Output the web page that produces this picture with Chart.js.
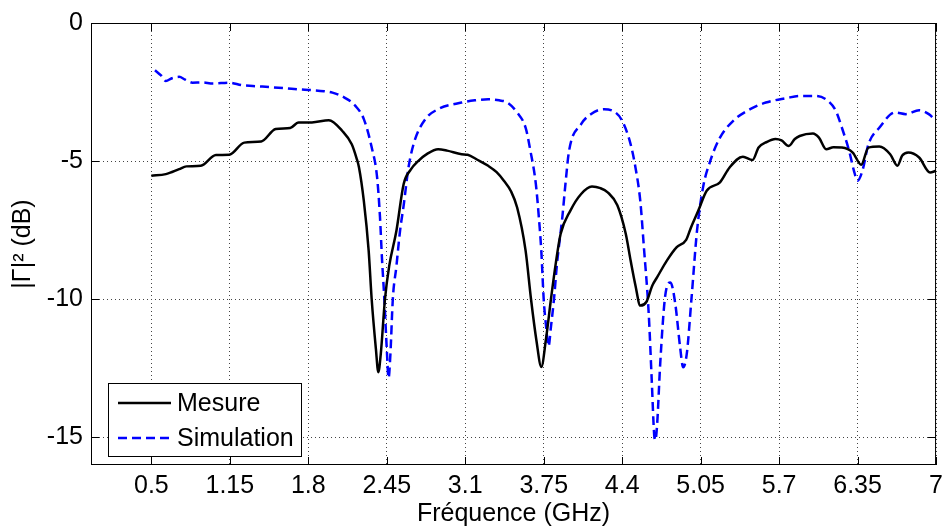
<!DOCTYPE html>
<html>
<head>
<meta charset="utf-8">
<script src="https://cdn.jsdelivr.net/npm/chart.js@4/dist/chart.umd.min.js"></script>
<style>
html,body{margin:0;padding:0;background:#fff;}
#wrap{width:949px;height:531px;position:relative;}
</style>
</head>
<body>
<div id="wrap"><canvas id="c" width="949" height="531"></canvas></div>
<script>
// ---- data ----
const xTicks = [0.5, 1.15, 1.8, 2.45, 3.1, 3.75, 4.4, 5.05, 5.7, 6.35, 7];
const yTicks = [-15, -10, -5, 0];

const mesureFreq = [0.50,0.62,0.73,0.79,0.91,1.035,1.145,1.27,1.41,1.53,1.65,1.72,1.83,1.97,2.08,2.16,2.20,2.22,2.26,2.30,2.325,2.36,2.38,2.40,2.435,2.47,2.53,2.59,2.65,2.71,2.79,2.875,2.95,3.07,3.12,3.20,3.29,3.36,3.42,3.48,3.53,3.60,3.645,3.69,3.73,3.77,3.81,3.85,3.89,3.97,4.06,4.15,4.22,4.28,4.36,4.43,4.47,4.51,4.55,4.60,4.65,4.69,4.77,4.85,4.93,4.97,5.03,5.10,5.21,5.29,5.40,5.48,5.53,5.60,5.67,5.72,5.78,5.83,5.87,5.98,6.03,6.09,6.15,6.22,6.31,6.38,6.44,6.53,6.62,6.68,6.72,6.77,6.86,6.95,7.00];
const mesureDb = [-5.53,-5.47,-5.29,-5.19,-5.17,-4.78,-4.77,-4.33,-4.29,-3.84,-3.80,-3.60,-3.60,-3.52,-3.90,-4.39,-4.9,-5.23,-6.44,-8.24,-10.0,-11.8,-12.64,-12.0,-10.0,-8.8,-7.52,-5.83,-5.3,-5.0,-4.72,-4.57,-4.62,-4.75,-4.77,-4.95,-5.17,-5.4,-5.71,-6.1,-6.68,-8.24,-10.0,-11.5,-12.45,-11.4,-10.0,-8.7,-7.64,-6.8,-6.19,-5.92,-5.98,-6.13,-6.6,-7.64,-8.6,-9.5,-10.23,-10.1,-9.5,-9.2,-8.6,-8.12,-7.85,-7.4,-6.8,-6.07,-5.77,-5.23,-4.84,-4.96,-4.51,-4.3,-4.20,-4.25,-4.45,-4.2,-4.09,-4.00,-4.15,-4.57,-4.5,-4.51,-4.69,-5.13,-4.51,-4.47,-4.75,-5.17,-4.8,-4.69,-4.87,-5.41,-5.35];

const simFreq = [0.53,0.58,0.62,0.67,0.73,0.78,0.84,0.92,1.01,1.145,1.25,1.34,1.48,1.61,1.72,1.83,1.93,2.00,2.10,2.19,2.26,2.325,2.37,2.394,2.41,2.43,2.45,2.465,2.48,2.50,2.53,2.56,2.59,2.63,2.68,2.77,2.875,3.07,3.18,3.29,3.38,3.45,3.53,3.60,3.64,3.685,3.71,3.73,3.75,3.77,3.79,3.81,3.835,3.86,3.905,3.93,3.96,4.06,4.14,4.25,4.345,4.40,4.47,4.51,4.55,4.58,4.62,4.645,4.665,4.675,4.69,4.715,4.755,4.80,4.84,4.88,4.905,4.935,4.975,5.02,5.07,5.13,5.21,5.32,5.46,5.59,5.76,5.87,6.00,6.10,6.17,6.22,6.28,6.32,6.35,6.39,6.44,6.53,6.66,6.75,6.86,6.94,7.00];
const simDb = [-1.71,-1.9,-2.10,-2.0,-1.95,-2.05,-2.16,-2.15,-2.19,-2.16,-2.25,-2.28,-2.32,-2.36,-2.40,-2.43,-2.47,-2.52,-2.70,-3.00,-3.48,-4.5,-5.59,-7.04,-8.5,-10.0,-11.8,-12.85,-12.0,-10.0,-8.8,-7.52,-6.6,-5.23,-4.27,-3.48,-3.12,-2.88,-2.80,-2.76,-2.80,-2.88,-3.24,-3.79,-4.63,-5.83,-7.04,-8.24,-10.0,-11.0,-11.7,-11.0,-10.0,-8.72,-7.0,-5.83,-4.63,-3.66,-3.30,-3.12,-3.24,-3.54,-4.39,-5.23,-6.44,-8.12,-10.53,-12.94,-14.9,-15.1,-14.5,-12.34,-9.93,-9.39,-10.17,-11.74,-12.46,-11.98,-9.93,-7.52,-5.95,-4.99,-4.15,-3.54,-3.12,-2.88,-2.72,-2.64,-2.64,-2.80,-3.18,-3.79,-4.63,-5.35,-5.71,-5.35,-4.39,-3.79,-3.24,-3.30,-3.16,-3.30,-3.54];

const seriesLabels = ['Mesure', 'Simulation'];
const xTitle = 'Fréquence (GHz)';
const yTitle = '|Γ|² (dB)';

// ---- build ----
const toPts = (xs, ys) => xs.map((x, i) => ({x: x, y: ys[i]}));
const FONT = '"Liberation Sans", Arial, sans-serif';

const framePlugin = {
  id: 'frame',
  afterDatasetsDraw(chart) {
    const {ctx, chartArea: a, scales} = chart;
    ctx.save();
    ctx.strokeStyle = '#000';
    ctx.lineWidth = 1;
    ctx.setLineDash([]);
    ctx.strokeRect(a.left + 0.5, a.top + 0.5, a.right - a.left - 1, a.bottom - a.top - 1);
    const L = 8;
    ctx.beginPath();
    xTicks.forEach(v => {
      const x = Math.round(scales.x.getPixelForValue(v)) + 0.5;
      ctx.moveTo(x, a.bottom); ctx.lineTo(x, a.bottom - L);
      ctx.moveTo(x, a.top); ctx.lineTo(x, a.top + L);
    });
    yTicks.forEach(v => {
      const y = Math.round(scales.y.getPixelForValue(v)) + 0.5;
      ctx.moveTo(a.left, y); ctx.lineTo(a.left + L, y);
      ctx.moveTo(a.right, y); ctx.lineTo(a.right - L, y);
    });
    ctx.stroke();

    // legend box
    const bx = 108, by = 383, bw = 193, bh = 73;
    ctx.fillStyle = '#fff';
    ctx.fillRect(bx, by, bw, bh);
    ctx.strokeRect(bx + 0.5, by + 0.5, bw, bh);
    ctx.font = '25px ' + FONT;
    ctx.textBaseline = 'middle';
    ctx.textAlign = 'left';
    chart.data.datasets.forEach((ds, i) => {
      const cy = by + 20 + i * 35;
      ctx.strokeStyle = ds.borderColor;
      ctx.lineWidth = ds.borderWidth;
      ctx.setLineDash(ds.borderDash || []);
      ctx.beginPath();
      ctx.moveTo(bx + 10, cy); ctx.lineTo(bx + 63, cy);
      ctx.stroke();
      ctx.fillStyle = '#000';
      ctx.fillText(ds.label, bx + 69, cy + 1);
    });
    ctx.restore();
  }
};

new Chart(document.getElementById('c'), {
  type: 'line',
  data: {
    datasets: [
      {label: seriesLabels[0], data: toPts(mesureFreq, mesureDb), borderColor: '#000000', borderWidth: 2.5, pointRadius: 0, fill: false, cubicInterpolationMode: 'monotone'},
      {label: seriesLabels[1], data: toPts(simFreq, simDb), borderColor: '#0000ff', borderWidth: 2.5, borderDash: [9, 5], pointRadius: 0, fill: false, cubicInterpolationMode: 'monotone'}
    ]
  },
  options: {
    responsive: false,
    animation: false,
    layout: {padding: {left: 0, right: 9, top: 22, bottom: 0}},
    plugins: {legend: {display: false}, tooltip: {enabled: false}},
    scales: {
      x: {
        type: 'linear', min: 0, max: 7,
        afterBuildTicks: s => { s.ticks = xTicks.map(v => ({value: v})); },
        afterFit: s => { s.height = 66; },
        ticks: {color: '#000', font: {size: 25, family: FONT}, padding: 6, maxRotation: 0, autoSkip: false,
                callback: v => String(v)},
        grid: {color: '#444', lineWidth: 1, drawTicks: false},
        border: {display: false, dash: [1, 3]},
        title: {display: true, text: xTitle, color: '#000', font: {size: 25, family: FONT}, padding: {top: 0, bottom: 2}}
      },
      y: {
        type: 'linear', min: -16, max: 0,
        afterBuildTicks: s => { s.ticks = yTicks.map(v => ({value: v})); },
        afterFit: s => { s.width = 91; },
        ticks: {color: '#000', font: {size: 25, family: FONT}, padding: 8, callback: v => String(v)},
        grid: {color: '#444', lineWidth: 1, drawTicks: false},
        border: {display: false, dash: [1, 3]},
        title: {display: true, text: yTitle, color: '#000', font: {size: 25, family: FONT}, padding: {top: 8, bottom: 0}}
      }
    }
  },
  plugins: [framePlugin]
});
</script>
</body>
</html>
